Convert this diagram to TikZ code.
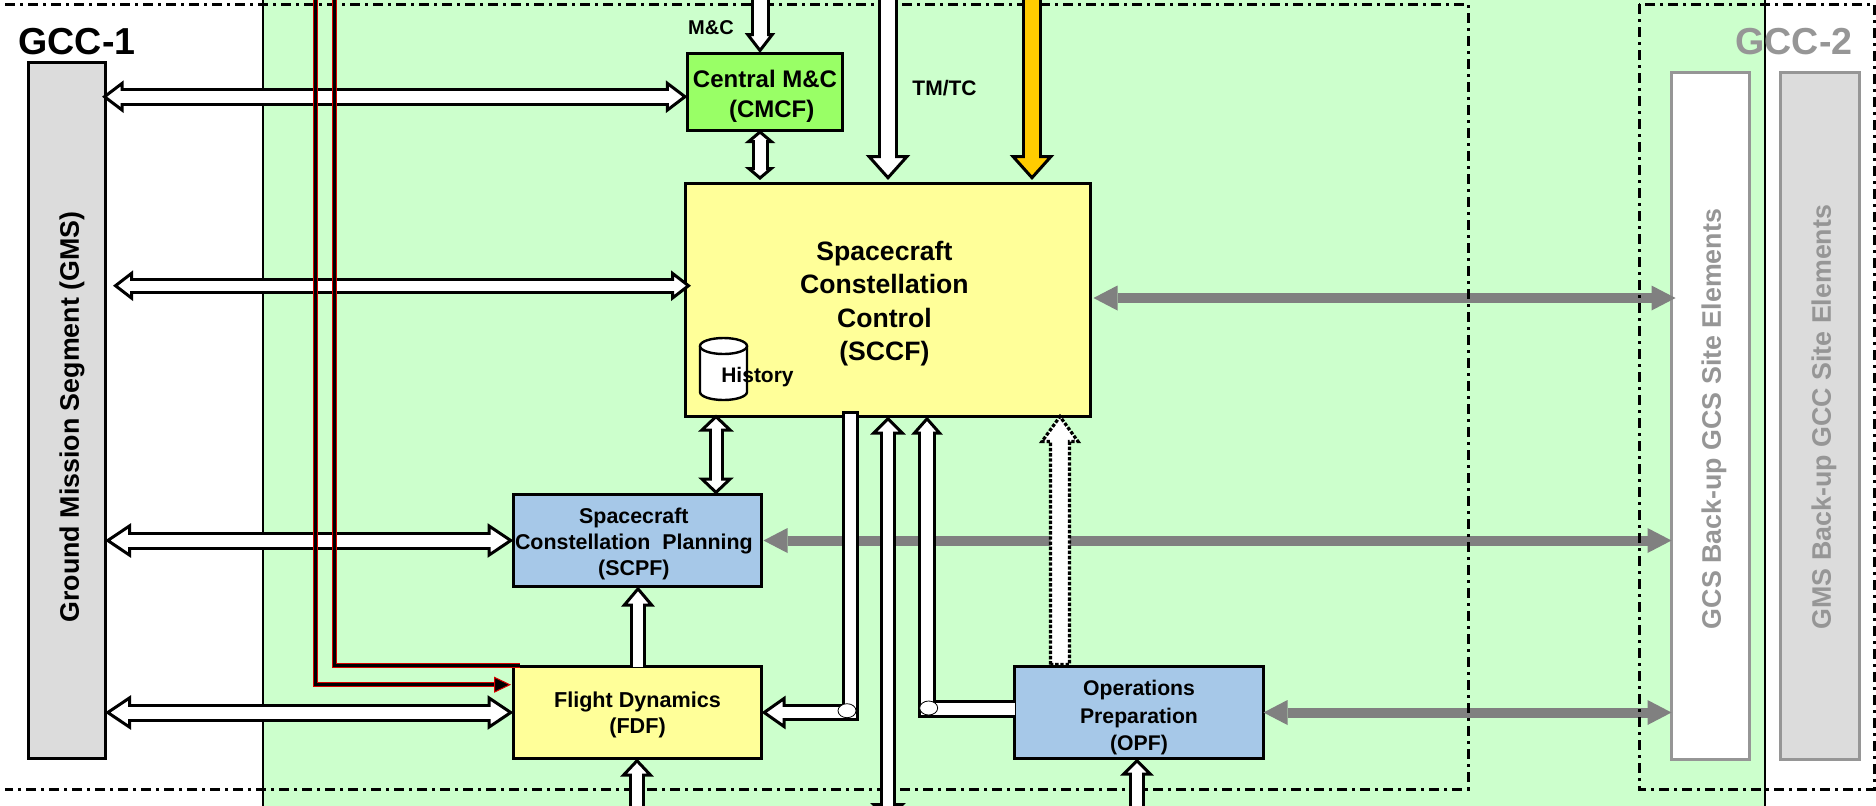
\documentclass[tikz,border=0pt]{standalone}
\usepackage{fontspec}
\setmainfont{Liberation Sans}
\usetikzlibrary{arrows.meta,shapes.geometric}
\definecolor{zonegreen}{HTML}{CCFFCC}
\definecolor{mcgreen}{HTML}{99FF66}
\definecolor{ctrlyellow}{HTML}{FFFF99}
\definecolor{planblue}{HTML}{A6C8E8}
\definecolor{tmyellow}{HTML}{FFCC00}
\definecolor{sitegrey}{HTML}{969696}
\definecolor{linkgrey}{HTML}{808080}
\definecolor{barlight}{HTML}{DCDCDC}
\newcommand{\drop}[1]{\rule{0pt}{#1pt}}
\newcommand{\nudge}{\rule{3.6pt}{0pt}}
\tikzset{
  fs/.style 2 args={font=\fontsize{#1}{#2}\selectfont\bfseries},
  box/.style 2 args={draw,line width=1.5pt,inner sep=0pt,outer sep=0pt,align=center,
    minimum width=#1*.5pt,minimum height=#2*.5pt},
  sitebox/.style 2 args={draw=sitegrey,line width=1.5pt,inner sep=0pt,outer sep=0pt,
    minimum width=#1*.5pt,minimum height=#2*.5pt},
  joint/.style={draw,ellipse,fill=white,line width=.4pt,inner sep=0pt,
    minimum width=9pt,minimum height=7pt},
  blockline/.style 2 args={draw,line width=1.5pt,double=#2,double distance=#1pt},
  % shaft, head length, head width, fill
  blockarrow/.style n args={4}{blockline={#1}{#4},
    arrows={-{Triangle[length=#2pt,width=#3pt,line width=1.5pt,fill=#4]}},
    postaction={draw=#4,line width=#1pt,arrows=-,line cap=butt,shorten >=#2pt-2pt}},
  blockboth/.style n args={3}{blockline={#1}{white},
    arrows={{Triangle[length=#2pt,width=#3pt,line width=1.5pt,fill=white]}-{Triangle[length=#2pt,width=#3pt,line width=1.5pt,fill=white]}},
    postaction={draw=white,line width=#1pt,arrows=-,line cap=butt,shorten >=#2pt-2pt,shorten <=#2pt-2pt}},
  greylink/.style={draw=linkgrey,line width=5pt,
    arrows={{Triangle[length=12pt,width=12.5pt,line width=0pt]}-{Triangle[length=12pt,width=12.5pt,line width=0pt]}}},
  redline/.style={draw=red!85!black,line width=.5pt,double=black,double distance=1.4pt},
  dashzone/.style={line width=1.5pt,dash pattern=on 5pt off 2.5pt on 1.5pt off 2.5pt},
  dotbox/.style={draw,fill=white,line width=1.6pt,dash pattern=on 1.7pt off .9pt},
}
\begin{document}
\begin{tikzpicture}[x=.5pt,y=-.5pt]
\path[use as bounding box,clip] (0,0) rectangle (1876,805);
\fill[white] (0,0) rectangle (1876,805);
\draw[fill=zonegreen,line width=1pt] (262.5,-5) rectangle (1764.5,810);

% boxes
\node (gms) [box={77}{696},fill=barlight] at (66.5,410.5) {};
\node (cmcf) [box={155}{77},fill=mcgreen,fs={12}{15}] at (765,91.5) {\drop{13.6}Central M\&C\\\ \ (CMCF)};
\node (sccf) [box={405}{233},fill=ctrlyellow,fs={13.3}{16.6}] at (888,300) {\drop{13.3}Spacecraft\nudge\\Constellation\nudge\\Control\nudge\\(SCCF)\nudge};
\node (scpf) [box={248}{92},fill=planblue,fs={10.7}{13}] at (637.5,540.5) {\drop{11.4}Spacecraft\nudge\\Constellation\ \ Planning\nudge\\(SCPF)\nudge};
\node (fdf) [box={248}{92},fill=ctrlyellow,fs={10.8}{13}] at (637.5,712.5) {\drop{10.3}Flight Dynamics\\(FDF)};
\node (opf) [box={249}{92},fill=planblue,fs={10.6}{13.7}] at (1139,712.5) {\drop{12.8}Operations\\Preparation\\(OPF)};
\node (gcssite) [sitebox={78}{687},fill=white] at (1710.5,416) {};
\node (gmssite) [sitebox={79}{687},fill=barlight] at (1820,416) {};
\coordinate (hist) at (723.5,346);
\draw[fill=white,line width=1.2pt] (hist) ++(-23.5,0) -- ++(0,46) arc[start angle=180,end angle=0,x radius=23.5,y radius=8] -- ++(0,-46);
\draw[fill=white,line width=1.2pt] (hist) ellipse [x radius=23.5,y radius=8];

% links to back-up site
\draw[greylink] (sccf.east |- 0,298) ++(3,0) -- (1675.5,298);
\draw[greylink] (scpf.east) ++(2,0) -- (gcssite.west |- scpf.east);
\draw[greylink] (opf.east) -- (gcssite.west |- opf.east);

% zones
\draw[dashzone] (5,4) -- (1468,4) -- (1468,789) -- (5,789);
\draw[dashzone] (1639,4) rectangle (1874,789);

% arrows
\coordinate (mcin) at (760,-6);
\coordinate (tmin) at (888,-6);
\coordinate (orbin) at (1032,-6);
\coordinate (mcleft) at (0,96.7);
\coordinate (sccfleft) at (113,285.7);
\coordinate (sccfin) at (691,285.7);
\coordinate (fdfpipe) at (850.3,420);
\coordinate (opfpipe) at (927,708.5);
\coordinate (splink) at (716,500);
\coordinate (fdup) at (638,600);
\coordinate (fdin) at (637,812);
\coordinate (opin) at (1137,812);
\coordinate (tcin) at (888,821);
\draw[blockarrow={6.5}{10}{15}{white}] (mcin) -- (mcin |- cmcf.north);
\draw[blockboth={5.5}{6.5}{15}] (mcin |- cmcf.south) -- (760,180);
\draw[blockarrow={7}{12.5}{22}{white}] (tmin) -- (888,180);
\draw[blockarrow={7}{12.5}{22}{tmyellow}] (orbin) -- (1032,180);
\draw[blockboth={5.8}{10.8}{16}] (gms.east |- mcleft) ++(-3,0) -- (cmcf.west |- mcleft);
\draw[blockboth={5.2}{10}{15}] (sccfleft) -- (sccfin);
\draw[blockboth={6}{13}{17}] (gms.east |- scpf.west) -- (scpf.west);
\draw[blockboth={6}{13}{17}] (gms.east |- fdf.west) -- (fdf.west);
\draw[blockboth={4.5}{8.5}{17.5}] (splink |- sccf.south) ++(0,-2) -- (splink |- scpf.north);
\draw[blockarrow={5}{10}{16.5}{white}] (fdup |- fdf.north) -- (fdup |- scpf.south);
\draw[blockarrow={5}{9}{16.5}{white}] (fdin) -- (fdin |- fdf.south);
\draw[blockarrow={5}{8.5}{16.5}{white}] (opin) -- (opin |- opf.south);
\draw[blockboth={5}{9}{17.5}] (tcin) -- (tcin |- sccf.south);
\draw[blockarrow={5.6}{12}{16.5}{white},line cap=rect] (fdfpipe) -- (fdfpipe |- fdf.east) -- (fdf.east);
\draw[blockarrow={6}{9}{15.5}{white}] (opf.west |- opfpipe) -- (opfpipe) -- (opfpipe |- sccf.south);
\node (fdfjoint) [joint] at (847,710.7) {};
\node (opfjoint) [joint] at (928.7,708) {};
\coordinate (dotin) at (1060,500);
\draw[dotbox] (dotin |- opf.north) ++(-9.5,-2) -- ++(0,-223) -- ++(-8.5,0) -- ++(18,-25) -- ++(18,25) -- ++(-8.5,0) -- ++(0,223) -- cycle;

% red lines
\coordinate (redone) at (315.3,-6);
\coordinate (redtwo) at (334.7,-6);
\draw[redline,arrows={-{Triangle[length=8.5pt,width=8pt,line width=.5pt,fill=black,color=red!85!black]}}] (redone) -- (redone |- 0,684.7) -- (511,684.7);
\draw[redline] (redtwo) -- (redtwo |- 0,665.5) -- (520,665.5);

% labels
\node (gcconelabel) [fs={18.8}{20}] at (77,41.5) {GCC-1};
\node (gcctwolabel) [fs={18.8}{20},text=sitegrey] at (1794,41.5) {GCC-2};
\node (mclabel) [fs={10}{12}] at (711,28) {M\&C};
\node (tmlabel) [fs={10.5}{12}] at (944.5,88) {TM/TC};
\node (histlabel) [fs={10.5}{12}] at (757.5,377) {History};
\node (gmslabel) [fs={13.4}{16},rotate=90] at (72,417) {Ground Mission Segment (GMS)};
\node (gcslabel) [fs={13.4}{16},rotate=90,text=sitegrey] at (1714,419) {GCS Back-up GCS Site Elements};
\node (gmsitelabel) [fs={13.4}{16},rotate=90,text=sitegrey] at (1824,417) {GMS Back-up GCC Site Elements};
\end{tikzpicture}
\end{document}
